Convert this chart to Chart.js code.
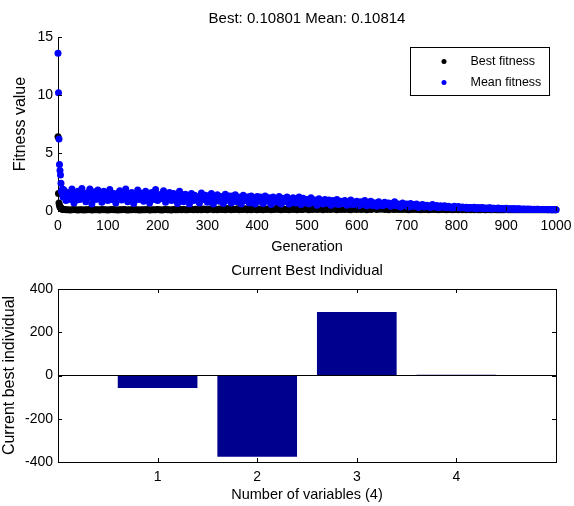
<!DOCTYPE html>
<html>
<head>
<meta charset="utf-8">
<title>GA fitness</title>
<script src="https://cdn.jsdelivr.net/npm/chart.js@4.4.1/dist/chart.umd.min.js"></script>
<style>
  html, body { margin: 0; padding: 0; background: #fff; }
  #page { position: relative; width: 574px; height: 506px; }
  .box { position: absolute; left: 0; width: 574px; }
  #fitnessBox { top: 0; height: 260px; }
  #individualBox { top: 260px; height: 246px; }
</style>
</head>
<body>
<div id="page">
  <div class="box" id="fitnessBox"><canvas id="fitnessChart" width="574" height="260"></canvas></div>
  <div class="box" id="individualBox"><canvas id="individualChart" width="574" height="246"></canvas></div>
</div>
<script>
// ───────── data ─────────

// first generations, one value each
const earlyGenerations = [0, 1, 2, 3, 4, 5, 6, 7, 8, 9, 10, 11];
const earlyBestFitness = [6.4, 1.5, 0.7, 0.5, 0.35, 0.3, 0.25, 0.2, 0.18, 0.15, 0.15, 0.13];
const earlyMeanFitness = [13.6, 10.2, 6.2, 4.0, 3.5, 3.1, 2.4, 1.7, 1.6, 1.9, 1.2, 1.5];

// later generations, read every 4th generation from 12 to 1000
const laterFirstGeneration = 12;
const laterStep = 4;
const laterBestFitness = [
    0.12, 0.1, 0.11, 0.09, 0.1, 0.12, 0.1, 0.09, 0.11, 0.1,
    0.09, 0.11, 0.1, 0.12, 0.09, 0.1, 0.11, 0.1, 0.09, 0.12,
    0.1, 0.11, 0.09, 0.1, 0.12, 0.1, 0.11, 0.09, 0.1, 0.11,
    0.12, 0.1, 0.09, 0.11, 0.1, 0.12, 0.1, 0.11, 0.09, 0.1,
    0.11, 0.1, 0.12, 0.09, 0.1, 0.11, 0.1, 0.12, 0.1, 0.09,
    0.1, 0.12, 0.11, 0.1, 0.09, 0.13, 0.1, 0.11, 0.12, 0.1,
    0.14, 0.11, 0.1, 0.16, 0.12, 0.1, 0.15, 0.11, 0.13, 0.1,
    0.18, 0.12, 0.1, 0.15, 0.2, 0.11, 0.13, 0.1, 0.17, 0.12,
    0.14, 0.1, 0.22, 0.13, 0.11, 0.16, 0.12, 0.19, 0.1, 0.14,
    0.12, 0.2, 0.11, 0.15, 0.1, 0.24, 0.13, 0.11, 0.17, 0.12,
    0.1, 0.18, 0.13, 0.22, 0.11, 0.15, 0.12, 0.26, 0.14, 0.11,
    0.19, 0.12, 0.16, 0.1, 0.23, 0.13, 0.17, 0.11, 0.2, 0.14,
    0.12, 0.25, 0.15, 0.11, 0.18, 0.13, 0.28, 0.12, 0.16, 0.2,
    0.11, 0.22, 0.14, 0.17, 0.12, 0.26, 0.15, 0.11, 0.2, 0.13,
    0.18, 0.12, 0.24, 0.14, 0.1, 0.21, 0.16, 0.13, 0.27, 0.12,
    0.15, 0.2, 0.11, 0.25, 0.14, 0.17, 0.3, 0.12, 0.19, 0.15,
    0.22, 0.13, 0.18, 0.11, 0.24, 0.15, 0.12, 0.2, 0.14, 0.17,
    0.12, 0.19, 0.14, 0.11, 0.16, 0.13, 0.18, 0.12, 0.15, 0.11,
    0.14, 0.12, 0.16, 0.11, 0.13, 0.15, 0.12, 0.14, 0.11, 0.13,
    0.12, 0.14, 0.11, 0.13, 0.12, 0.11, 0.13, 0.12, 0.11, 0.12,
    0.11, 0.12, 0.11, 0.13, 0.11, 0.12, 0.11, 0.12, 0.11, 0.11,
    0.12, 0.11, 0.11, 0.12, 0.11, 0.11, 0.12, 0.11, 0.11, 0.11,
    0.11, 0.11, 0.12, 0.11, 0.11, 0.11, 0.11, 0.11, 0.11, 0.11,
    0.11, 0.11, 0.11, 0.11, 0.11, 0.11, 0.11, 0.11, 0.11, 0.11,
    0.11, 0.11, 0.11, 0.108, 0.108, 0.108, 0.108, 0.108
];
const laterMeanFitness = [
    1.8, 0.9, 1.5, 1.1, 1.9, 0.7, 1.3, 1.7, 1.0, 1.95,
    1.2, 0.8, 1.6, 1.9, 0.6, 1.4, 1.0, 1.8, 1.1, 0.75,
    1.7, 1.3, 0.9, 1.85, 1.0, 1.5, 0.7, 1.2, 1.75, 0.95,
    1.4, 1.9, 0.8, 1.1, 1.6, 0.65, 1.3, 1.8, 1.0, 1.5,
    0.85, 1.7, 1.2, 0.7, 1.6, 1.0, 1.85, 0.9, 1.4, 1.1,
    1.75, 0.75, 1.3, 1.6, 0.9, 1.5, 1.0, 0.65, 1.7, 1.2,
    0.8, 1.45, 1.1, 0.6, 1.5, 0.9, 1.3, 1.05, 0.7, 1.55,
    1.0, 1.35, 0.75, 1.2, 1.5, 0.6, 1.1, 1.4, 0.85, 1.25,
    0.65, 1.45, 1.0, 1.3, 0.7, 1.15, 1.4, 0.8, 1.05, 0.6,
    1.35, 0.9, 1.2, 0.7, 1.3, 1.0, 0.6, 1.25, 0.85, 1.1,
    0.65, 1.3, 0.95, 1.15, 0.55, 1.2, 0.8, 1.05, 1.25, 0.6,
    1.1, 0.85, 1.2, 0.6, 1.0, 1.15, 0.7, 0.95, 1.2, 0.55,
    1.1, 0.8, 1.0, 0.6, 1.15, 0.75, 0.95, 0.5, 1.05, 0.85,
    0.6, 1.0, 0.7, 0.95, 0.5, 0.9, 0.75, 1.0, 0.55, 0.85,
    0.65, 0.9, 0.5, 0.8, 0.95, 0.55, 0.75, 0.85, 0.45, 0.8,
    0.6, 0.9, 0.45, 0.75, 0.85, 0.5, 0.7, 0.4, 0.8, 0.6,
    0.45, 0.75, 0.55, 0.7, 0.4, 0.65, 0.8, 0.45, 0.6, 0.35,
    0.7, 0.5, 0.6, 0.35, 0.65, 0.45, 0.55, 0.6, 0.3, 0.5,
    0.55, 0.35, 0.5, 0.45, 0.3, 0.55, 0.4, 0.48, 0.28, 0.45,
    0.38, 0.45, 0.3, 0.42, 0.35, 0.25, 0.4, 0.33, 0.38, 0.25,
    0.35, 0.28, 0.33, 0.22, 0.3, 0.27, 0.32, 0.2, 0.28, 0.25,
    0.3, 0.2, 0.26, 0.23, 0.28, 0.18, 0.24, 0.21, 0.25, 0.17,
    0.22, 0.19, 0.23, 0.16, 0.2, 0.18, 0.21, 0.15, 0.19, 0.17,
    0.16, 0.18, 0.14, 0.17, 0.15, 0.13, 0.16, 0.14, 0.15, 0.12,
    0.14, 0.12, 0.13, 0.11, 0.12, 0.11, 0.12, 0.11
];
// mean fitness at the generations in between (14, 18, ... 998)
const betweenFirstGeneration = 14;
const betweenMeanFitness = [
    1.3, 1.6, 1.0, 1.45, 1.25, 1.55, 0.95, 1.4, 1.5, 1.15,
    1.45, 1.05, 1.3, 1.35, 1.1, 1.65, 1.25, 1.4, 1.5, 1.2,
    1.05, 1.55, 1.3, 1.4, 1.2, 1.0, 1.45, 1.6, 1.35, 1.3,
    1.15, 1.5, 1.3, 1.45, 1.1, 1.4, 1.0, 1.25, 1.55, 1.2,
    1.35, 1.25, 1.5, 1.0, 1.3, 1.45, 1.2, 1.35, 1.05, 1.55,
    1.2, 1.4, 1.05, 1.25, 1.35, 1.1, 1.45, 1.3, 1.0, 1.4,
    1.15, 1.0, 1.3, 1.2, 0.95, 1.35, 1.1, 0.85, 1.25, 1.05,
    1.2, 0.95, 1.3, 0.9, 1.1, 1.25, 0.9, 1.15, 1.05, 1.0,
    1.1, 0.9, 1.2, 0.95, 1.3, 0.85, 1.0, 1.2, 0.9, 1.15,
    0.95, 1.1, 0.85, 1.25, 0.95, 1.15, 1.0, 0.9, 1.2, 0.8,
    1.0, 0.85, 1.1, 0.8, 0.95, 1.05, 0.9, 0.75, 1.0, 0.9,
    0.85, 1.0, 0.8, 0.95, 0.9, 0.75, 1.05, 0.85, 0.9, 0.8,
    0.9, 0.7, 0.85, 0.95, 0.75, 0.9, 0.7, 0.85, 0.8, 0.7,
    0.8, 0.75, 0.85, 0.65, 0.8, 0.7, 0.6, 0.8, 0.75, 0.65,
    0.75, 0.7, 0.65, 0.6, 0.75, 0.7, 0.6, 0.65, 0.7, 0.6,
    0.7, 0.55, 0.65, 0.6, 0.5, 0.68, 0.6, 0.55, 0.65, 0.5,
    0.6, 0.55, 0.65, 0.5, 0.58, 0.52, 0.6, 0.5, 0.55, 0.48,
    0.55, 0.45, 0.5, 0.55, 0.42, 0.5, 0.4, 0.48, 0.45, 0.4,
    0.45, 0.4, 0.42, 0.36, 0.44, 0.38, 0.35, 0.4, 0.37, 0.34,
    0.36, 0.32, 0.38, 0.33, 0.3, 0.35, 0.31, 0.29, 0.33, 0.3,
    0.3, 0.26, 0.28, 0.3, 0.25, 0.27, 0.24, 0.28, 0.25, 0.23,
    0.25, 0.23, 0.22, 0.25, 0.2, 0.23, 0.21, 0.2, 0.22, 0.19,
    0.2, 0.18, 0.19, 0.2, 0.17, 0.18, 0.16, 0.18, 0.17, 0.16,
    0.16, 0.15, 0.16, 0.14, 0.15, 0.14, 0.14, 0.15, 0.13, 0.14,
    0.13, 0.12, 0.12, 0.12, 0.11, 0.11, 0.11
];

const fitnessTitle = 'Best: 0.10801 Mean: 0.10814';
const generationTicks = [0, 1000, 100];   // min, max, step
const fitnessTicks = [0, 15, 5];

// current best individual
const variableIndex = [1, 2, 3, 4];
const bestIndividual = [-58, -376, 294, 3];
const individualTicks = [-400, 400, 200];

const FONT = '"Liberation Sans", Arial, Helvetica, sans-serif';

// ───────── helpers ─────────
function toPoints(early, later, between) {
    const pts = early.map((v, i) => ({ x: earlyGenerations[i], y: v }));
    later.forEach((v, i) => pts.push({ x: laterFirstGeneration + i * laterStep, y: v }));
    if (between) {
        between.forEach((v, i) => pts.push({ x: betweenFirstGeneration + i * laterStep, y: v }));
        pts.sort((a, b) => a.x - b.x);
    }
    return pts;
}

// title centered over the plot area (like matlab axes title)
const axesTitle = {
    id: 'axesTitle',
    afterDraw(chart, args, opts) {
        const { ctx, chartArea } = chart;
        ctx.save();
        ctx.font = opts.font;
        ctx.fillStyle = '#000';
        ctx.textAlign = 'center';
        ctx.textBaseline = 'middle';
        ctx.fillText(opts.text, (chartArea.left + chartArea.right) / 2, opts.y);
        ctx.restore();
    }
};

// small tick marks pointing into the plot
const inwardTicks = {
    id: 'inwardTicks',
    afterDatasetsDraw(chart, args, opts) {
        const { ctx, chartArea: a, scales } = chart;
        const len = 4;
        ctx.save();
        ctx.strokeStyle = '#000';
        ctx.lineWidth = 1;
        ctx.beginPath();
        scales.x.ticks.forEach(t => {
            if (opts.xMin !== undefined && (t.value < opts.xMin || t.value > opts.xMax)) return;
            const px = Math.round(scales.x.getPixelForValue(t.value)) + 0.5;
            ctx.moveTo(px, a.bottom); ctx.lineTo(px, a.bottom - len);
            if (opts.box) { ctx.moveTo(px, a.top); ctx.lineTo(px, a.top + len); }
        });
        scales.y.ticks.forEach(t => {
            const py = Math.round(scales.y.getPixelForValue(t.value)) + 0.5;
            ctx.moveTo(a.left, py); ctx.lineTo(a.left + len, py);
            if (opts.box) { ctx.moveTo(a.right, py); ctx.lineTo(a.right - len, py); }
        });
        ctx.stroke();
        if (opts.box) {
            ctx.strokeRect(Math.round(a.left) + 0.5, Math.round(a.top) + 0.5,
                Math.round(a.right - a.left), Math.round(a.bottom - a.top));
        }
        ctx.restore();
    }
};

// boxed legend in the top right corner
const boxedLegend = {
    id: 'boxedLegend',
    afterDraw(chart, args, opts) {
        const { ctx, chartArea: a } = chart;
        const w = 139, h = 48;
        const x = a.right - 7 - w, y = a.top + 10;
        ctx.save();
        ctx.fillStyle = '#fff';
        ctx.fillRect(x, y, w, h);
        ctx.strokeStyle = '#000';
        ctx.lineWidth = 1;
        ctx.strokeRect(x + 0.5, y + 0.5, w, h);
        ctx.font = opts.font;
        ctx.textBaseline = 'middle';
        ctx.textAlign = 'left';
        chart.data.datasets.forEach((ds, i) => {
            const cy = y + 14.5 + i * 21;
            ctx.fillStyle = ds.backgroundColor;
            ctx.beginPath();
            ctx.arc(x + 34, cy, 2.5, 0, Math.PI * 2);
            ctx.fill();
            ctx.fillStyle = '#000';
            ctx.fillText(ds.label, x + 60.5, cy);
        });
        ctx.restore();
    }
};

Chart.defaults.font.family = FONT;
Chart.defaults.color = '#000';

// ─ fitness scatter
function initFitnessChart() {
    const ctx = document.getElementById('fitnessChart').getContext('2d');
    new Chart(ctx, {
        type: 'scatter',
        data: {
            datasets: [{
                label: 'Best fitness',
                data: toPoints(earlyBestFitness, laterBestFitness),
                backgroundColor: '#000000',
                borderColor: '#000000',
                pointRadius: 3.5,
                pointBorderWidth: 0,
                clip: false,
                order: 2
            }, {
                label: 'Mean fitness',
                data: toPoints(earlyMeanFitness, laterMeanFitness, betweenMeanFitness),
                backgroundColor: '#0000ff',
                borderColor: '#0000ff',
                pointRadius: 3.5,
                pointBorderWidth: 0,
                clip: false,
                order: 1
            }]
        },
        options: {
            responsive: false,
            animation: false,
            events: [],
            layout: { padding: { top: 37, right: 18, left: 0, bottom: 0 } },
            plugins: {
                legend: { display: false },
                title: { display: false },
                tooltip: { enabled: false },
                axesTitle: { text: fitnessTitle, y: 19, font: '15px ' + FONT },
                boxedLegend: { font: '12.5px ' + FONT },
                inwardTicks: {}
            },
            scales: {
                x: {
                    type: 'linear',
                    min: generationTicks[0], max: generationTicks[1],
                    ticks: {
                        stepSize: generationTicks[2], font: { size: 14 }, padding: 7, maxRotation: 0,
                        callback: v => String(v)
                    },
                    grid: { display: false, drawTicks: false },
                    border: { display: true, color: '#000' },
                    title: { display: true, text: 'Generation', font: { size: 14.5 }, padding: { top: 0, bottom: 4 } },
                    afterFit: s => { s.height = 49; s.paddingLeft = 0; s.paddingRight = 0; }
                },
                y: {
                    min: fitnessTicks[0], max: fitnessTicks[1],
                    ticks: { stepSize: fitnessTicks[2], font: { size: 14 }, padding: 5 },
                    grid: { display: false, drawTicks: false },
                    border: { display: true, color: '#000' },
                    title: { display: true, text: 'Fitness value', font: { size: 16 }, padding: { top: 11, bottom: 0 } },
                    afterFit: s => { s.width = 58; s.paddingTop = 0; s.paddingBottom = 0; }
                }
            }
        },
        plugins: [axesTitle, inwardTicks, boxedLegend]
    });
}

// ─ best individual bars
function initIndividualChart() {
    const ctx = document.getElementById('individualChart').getContext('2d');
    new Chart(ctx, {
        type: 'bar',
        data: {
            datasets: [{
                label: 'Current best individual',
                data: variableIndex.map((v, i) => ({ x: v, y: bestIndividual[i] })),
                backgroundColor: '#00008f',
                borderWidth: 0,
                barPercentage: 1,
                categoryPercentage: 0.8
            }]
        },
        options: {
            responsive: false,
            animation: false,
            events: [],
            layout: { padding: { top: 29, right: 18, left: 0, bottom: 0 } },
            plugins: {
                legend: { display: false },
                title: { display: false },
                tooltip: { enabled: false },
                axesTitle: { text: 'Current Best Individual', y: 11, font: '15px ' + FONT },
                inwardTicks: { box: true, xMin: 1, xMax: 4 }
            },
            scales: {
                x: {
                    type: 'linear',
                    min: 0, max: variableIndex.length + 1,
                    offset: false,
                    ticks: {
                        stepSize: 1, font: { size: 14 }, padding: 7, maxRotation: 0,
                        callback: v => (v >= 1 && v <= variableIndex.length ? String(v) : '')
                    },
                    grid: { display: false, drawTicks: false, offset: false },
                    border: { display: true, color: '#000' },
                    title: { display: true, text: 'Number of variables (4)', font: { size: 14.5 }, padding: { top: 0, bottom: 2 } },
                    afterFit: s => { s.height = 44; s.paddingLeft = 0; s.paddingRight = 0; }
                },
                y: {
                    min: individualTicks[0], max: individualTicks[1],
                    ticks: { stepSize: individualTicks[2], font: { size: 14 }, padding: 5 },
                    grid: {
                        drawTicks: false,
                        color: c => (c.tick && c.tick.value === 0 ? '#000' : 'rgba(0,0,0,0)')
                    },
                    border: { display: true, color: '#000' },
                    title: { display: true, text: 'Current best individual', font: { size: 16 }, padding: { top: 0, bottom: 0 } },
                    afterFit: s => { s.width = 58; s.paddingTop = 0; s.paddingBottom = 0; }
                }
            }
        },
        plugins: [axesTitle, inwardTicks]
    });
}

initFitnessChart();
initIndividualChart();
</script>
</body>
</html>
